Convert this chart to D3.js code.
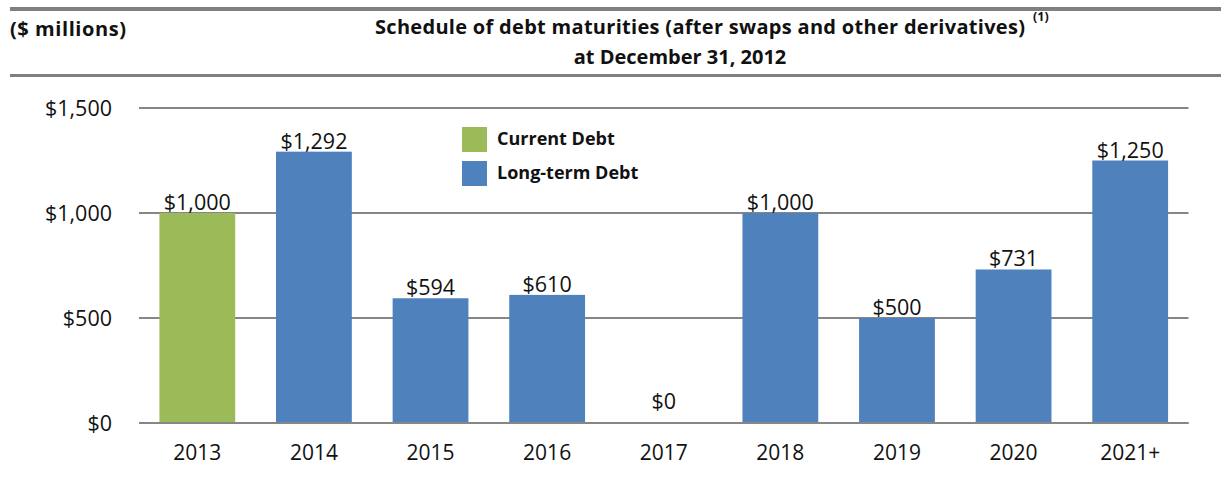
<!DOCTYPE html>
<html>
<head>
<meta charset="utf-8">
<script src="https://cdn.jsdelivr.net/npm/d3@7"></script>
<style>
  body { margin: 0; background: #fff; }
  text { fill: #111; }
</style>
</head>
<body>
<div id="chart"></div>
<script>
var width = 1221,
  height = 477;

// data
var years = ["2013", "2014", "2015", "2016", "2017", "2018", "2019", "2020", "2021+"];
var amounts = [1000, 1292, 594, 610, 0, 1000, 500, 731, 1250];
var kinds = ["current", "long", "long", "long", "long", "long", "long", "long", "long"];
var yTicks = [0, 500, 1000, 1500];
var legendLabels = ["Current Debt", "Long-term Debt"];
var legendKinds = ["current", "long"];

var colors = { current: "#9bbb59", long: "#4f81bd" };
var money = d3.format(",");
var boldFont = "'Open Sans', sans-serif";
var plainFont = "'Open Sans', sans-serif";

var svg = d3.select("#chart")
  .append("svg")
  .attr("width", width)
  .attr("height", height);

// header rules
svg.append("rect").attr("x", 10).attr("y", 7).attr("width", width - 10).attr("height", 4).attr("fill", "#808080");
svg.append("rect").attr("x", 10).attr("y", 74).attr("width", width - 10).attr("height", 3).attr("fill", "#808080");

svg.append("text")
  .attr("x", 10).attr("y", 36)
  .style("font-family", boldFont).style("font-weight", "bold").style("font-size", "20px")
  .attr("textLength", 116)
  .text("($ millions)");

var title = svg.append("text")
  .attr("x", 375).attr("y", 34)
  .style("font-family", boldFont).style("font-weight", "bold").style("font-size", "20px");
title.append("tspan")
  .attr("textLength", 650)
  .text("Schedule of debt maturities (after swaps and other derivatives)");
title.append("tspan")
  .attr("x", 1033).attr("y", 21)
  .style("font-size", "12.5px")
  .text("(1)");

svg.append("text")
  .attr("x", 680).attr("y", 64)
  .attr("text-anchor", "middle")
  .style("font-family", boldFont).style("font-weight", "bold").style("font-size", "20px")
  .text("at December 31, 2012");

var x = d3.scaleBand()
  .domain(years)
  .range([139, 1188.5])
  .paddingInner(0.35)
  .paddingOuter(0.175);

var y = d3.scaleLinear()
  .domain([0, 1500])
  .range([423, 108]);

// gridlines + y labels
svg.selectAll(".grid")
  .data(yTicks)
  .enter().append("line")
  .attr("class", "grid")
  .attr("x1", 139).attr("x2", 1188.5)
  .attr("y1", function(d) { return y(d); })
  .attr("y2", function(d) { return y(d); })
  .attr("stroke", "#868686")
  .attr("stroke-width", 2);

svg.selectAll(".ylab")
  .data(yTicks)
  .enter().append("text")
  .attr("class", "ylab")
  .attr("x", 112)
  .attr("y", function(d) { return y(d) + 8; })
  .attr("text-anchor", "end")
  .style("font-family", plainFont).style("font-size", "21.5px")
  .text(function(d) { return "$" + money(d); });

// bars
svg.selectAll(".bar")
  .data(amounts)
  .enter().append("rect")
  .attr("class", "bar")
  .attr("x", function(d, i) { return x(years[i]); })
  .attr("width", x.bandwidth())
  .attr("y", function(d) { return y(d); })
  .attr("height", function(d) { return y(0) - y(d); })
  .attr("fill", function(d, i) { return colors[kinds[i]]; });

// base line drawn again on top
svg.append("line")
  .attr("x1", 139).attr("x2", 1188.5)
  .attr("y1", y(0)).attr("y2", y(0))
  .attr("stroke", "#868686")
  .attr("stroke-width", 2);

// value labels
svg.selectAll(".val")
  .data(amounts)
  .enter().append("text")
  .attr("class", "val")
  .attr("x", function(d, i) { return x(years[i]) + x.bandwidth() / 2; })
  .attr("y", function(d) { return Math.min(y(d) - 3, y(0) - 14); })
  .attr("text-anchor", "middle")
  .style("font-family", plainFont).style("font-size", "21.5px")
  .text(function(d) { return "$" + money(d); });

// x labels
svg.selectAll(".xlab")
  .data(years)
  .enter().append("text")
  .attr("class", "xlab")
  .attr("x", function(d) { return x(d) + x.bandwidth() / 2; })
  .attr("y", 460)
  .attr("text-anchor", "middle")
  .style("font-family", plainFont).style("font-size", "21px")
  .text(function(d) { return d; });

// legend
var legend = svg.selectAll(".legend")
  .data(legendLabels)
  .enter().append("g")
  .attr("class", "legend")
  .attr("transform", function(d, i) { return "translate(462," + (127 + i * 34) + ")"; });

legend.append("rect")
  .attr("width", 25).attr("height", 25)
  .attr("fill", function(d, i) { return colors[legendKinds[i]]; });

legend.append("text")
  .attr("x", 35).attr("y", 18)
  .style("font-family", boldFont).style("font-weight", "bold").style("font-size", "18px")
  .text(function(d) { return d; });
</script>
</body>
</html>
